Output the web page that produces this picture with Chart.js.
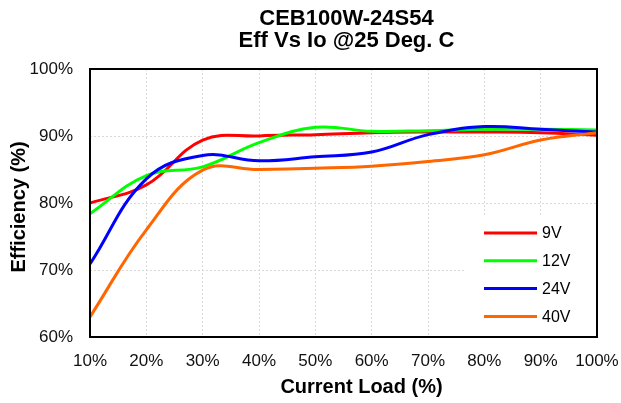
<!DOCTYPE html>
<html>
<head>
<meta charset="utf-8">
<script src="https://cdn.jsdelivr.net/npm/chart.js@4/dist/chart.umd.min.js"></script>
<style>
	html, body { margin: 0; padding: 0; background: #fff; }
	#wrap { width: 621px; height: 403px; }
</style>
</head>
<body>
<div id="wrap"><canvas id="effChart" width="621" height="403"></canvas></div>
<script>
const FONT = '"Liberation Sans", Arial, sans-serif';

// chart data
const titleLines = ["CEB100W-24S54", "Eff Vs Io @25 Deg. C"];
const xTitle = "Current Load (%)";
const yTitle = "Efficiency (%)";
const loads = [10, 20, 30, 40, 50, 60, 70, 80, 90, 100];
const seriesNames = ["9V", "12V", "24V", "40V"];
const seriesColors = ["#FF0000", "#00FF00", "#0000FF", "#FF6600"];
const eff9V = [80.0, 82.7, 89.4, 90.0, 90.2, 90.5, 90.6, 90.6, 90.5, 90.1];
const eff12V = [78.4, 84.1, 85.4, 89.0, 91.3, 90.7, 90.8, 91.0, 91.0, 90.9];
const eff24V = [70.9, 83.6, 87.1, 86.3, 86.9, 87.6, 90.2, 91.4, 91.0, 90.6];
const eff40V = [63.0, 76.0, 84.9, 85.0, 85.2, 85.5, 86.2, 87.2, 89.4, 90.5];
const allSeries = [eff9V, eff12V, eff24V, eff40V];

const datasets = allSeries.map((vals, i) => ({
	label: seriesNames[i],
	data: vals.map((v, j) => ({ x: loads[j], y: v })),
	borderColor: seriesColors[i],
	backgroundColor: seriesColors[i],
	borderWidth: 3,
	pointRadius: 0,
	tension: 0.4,
	fill: false,
	// later series drawn on top, like excel
	order: allSeries.length - i,
}));

const decor = {
	id: "decor",
	beforeDatasetsDraw(chart) {
		const { ctx, chartArea: { right, bottom } } = chart;
		// legend box covers the grid
		ctx.save();
		ctx.fillStyle = "#fff";
		ctx.fillRect(right - 131, bottom - 120, 131, 120);
		ctx.restore();
	},
	afterDatasetsDraw(chart) {
		const { ctx, chartArea: { left, top, right, bottom, width, height } } = chart;
		ctx.save();
		// frame
		ctx.strokeStyle = "#000";
		ctx.lineWidth = 2;
		ctx.strokeRect(left, top, width, height);
		// legend
		ctx.font = "16px " + FONT;
		ctx.textBaseline = "middle";
		ctx.textAlign = "left";
		seriesNames.forEach((name, i) => {
			const y = bottom - 104 + i * 27.8;
			ctx.strokeStyle = seriesColors[i];
			ctx.lineWidth = 3;
			ctx.beginPath();
			ctx.moveTo(right - 113, y);
			ctx.lineTo(right - 60, y);
			ctx.stroke();
			ctx.fillStyle = "#000";
			ctx.fillText(name, right - 55, y + 1);
		});
		ctx.restore();
	},
	afterDraw(chart) {
		const { ctx, chartArea: { left, top, right, bottom } } = chart;
		ctx.save();
		ctx.fillStyle = "#000";
		ctx.textAlign = "center";
		ctx.textBaseline = "alphabetic";
		ctx.font = "bold 22px " + FONT;
		const cx = (left + right) / 2 + 3;
		titleLines.forEach((t, i) => ctx.fillText(t, cx, 25 + i * 22));
		ctx.font = "bold 20px " + FONT;
		ctx.fillText(xTitle, cx + 15, 393);
		ctx.translate(25, (top + bottom) / 2 + 4);
		ctx.rotate(-Math.PI / 2);
		ctx.fillText(yTitle, 0, 0);
		ctx.restore();
	},
};

Chart.defaults.font.family = FONT;
Chart.defaults.color = "#111";

new Chart(document.getElementById("effChart"), {
	type: "line",
	data: { datasets: datasets },
	plugins: [decor],
	options: {
		responsive: false,
		animation: false,
		layout: { padding: { top: 69, left: 0, right: 24, bottom: 0 } },
		plugins: {
			legend: { display: false },
			title: { display: false },
			tooltip: { enabled: false },
		},
		scales: {
			x: {
				type: "linear",
				min: 10,
				max: 100,
				ticks: {
					stepSize: 10,
					padding: 14,
					font: { size: 17 },
					callback: (v) => v + "%",
				},
				grid: { color: "#d9d9d9", lineWidth: 1, drawTicks: false },
				border: { display: false, dash: [2, 2] },
				afterFit: (scale) => {
					scale.height = 66;
					scale.paddingLeft = 0;
					scale.paddingRight = 0;
				},
			},
			y: {
				min: 60,
				max: 100,
				ticks: {
					stepSize: 10,
					padding: 17,
					font: { size: 17 },
					callback: (v) => v + "%",
				},
				grid: { color: "#d9d9d9", lineWidth: 1, drawTicks: false },
				border: { display: false, dash: [2, 2] },
				afterFit: (scale) => {
					scale.width = 90;
					scale.paddingTop = 0;
					scale.paddingBottom = 0;
				},
			},
		},
	},
});
</script>
</body>
</html>
